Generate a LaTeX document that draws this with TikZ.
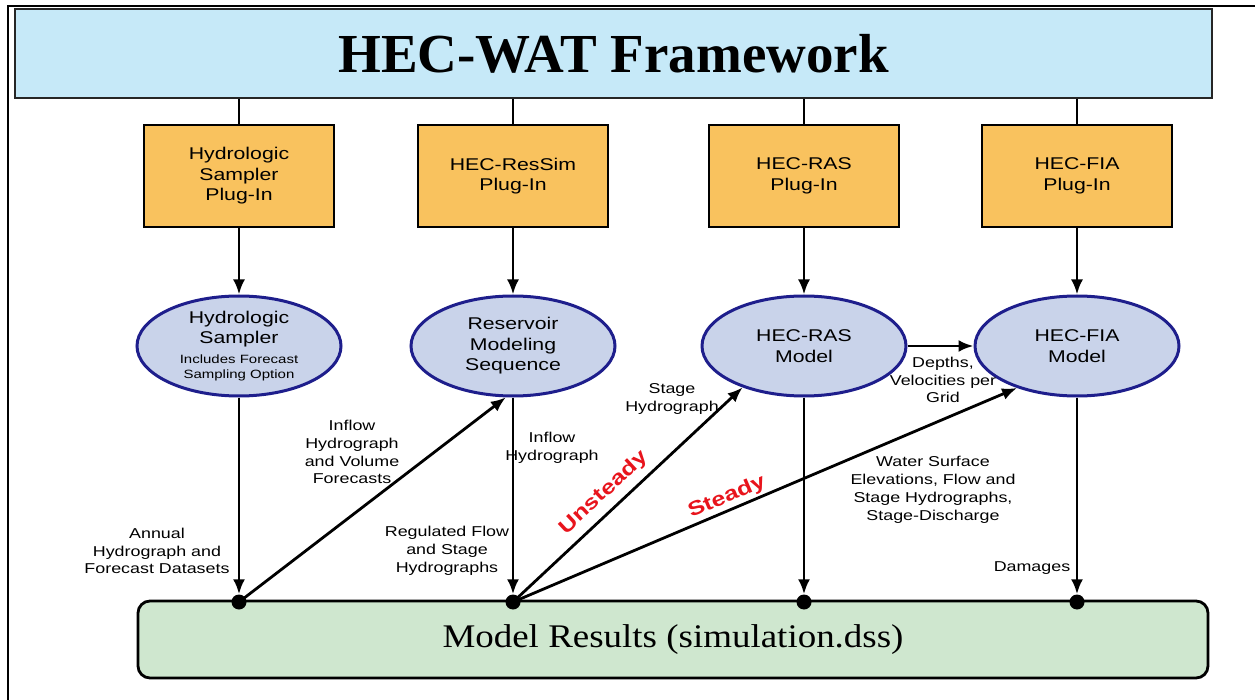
\documentclass[tikz,border=0pt]{standalone}
\usepackage{fontspec}
\setmainfont{Liberation Serif}
\setsansfont{Liberation Sans}[FakeStretch=1.25]
\newfontfamily\resfont{Liberation Serif}[FakeStretch=1.12]
\usepackage{tikz}
\usetikzlibrary{arrows.meta,positioning,shapes.geometric}
\definecolor{watblue}{HTML}{C6E9F8}
\definecolor{watorange}{HTML}{F9C25E}
\definecolor{watlav}{HTML}{C9D3EA}
\definecolor{watnavy}{HTML}{1E1E8C}
\definecolor{watgreen}{HTML}{CFE7CF}
\definecolor{watred}{HTML}{E8141C}

\begin{document}
\begin{tikzpicture}[x=1pt,y=-1pt,
  plugin/.style={draw=black,line width=1.8pt,fill=watorange,minimum width=190pt,minimum height=102pt,align=center,font=\sffamily\fontsize{17}{20.5}\selectfont},
  model/.style={ellipse,draw=watnavy,line width=3pt,fill=watlav,minimum width=204pt,minimum height=100pt,inner sep=0pt,align=center,font=\sffamily\fontsize{17}{20.5}\selectfont},
  lbl/.style={align=center,inner sep=0pt,font=\sffamily\fontsize{14.3}{17.8}\selectfont},
  flowtype/.style={text=watred,inner sep=0pt,font=\sffamily\bfseries\fontsize{20}{23}\selectfont},
  tap/.style={circle,fill=black,inner sep=0pt,minimum size=15pt},
  conn/.style={line width=2.8pt,-{Latex[length=15pt,width=12pt]}},
  tie/.style={line width=2.2pt}]
\useasboundingbox (0,0) rectangle (1255,700);
\draw[line width=2.2pt] (8,700) -- (8,6) -- (1255,6);

% framework banner
\node[draw=black!85,line width=1.6pt,fill=watblue,minimum width=1197pt,minimum height=89pt,inner sep=0pt,font=\bfseries\fontsize{55}{60}\selectfont] (wat) at (613.5,53.5) {HEC-WAT Framework};

% plug-ins
\node[plugin] (hsp) at (239,176) {Hydrologic\\Sampler\\Plug-In};
\node[plugin] (rsp) at (513,176) {HEC-ResSim\\Plug-In};
\node[plugin] (rasp) at (804,176) {HEC-RAS\\Plug-In};
\node[plugin] (fiap) at (1077,176) {HEC-FIA\\Plug-In};
\draw[tie] (wat.south -| hsp) -- (hsp.north);
\draw[tie] (wat.south -| rsp) -- (rsp.north);
\draw[tie] (wat.south -| rasp) -- (rasp.north);
\draw[tie] (wat.south -| fiap) -- (fiap.north);

% models
\node[model] (hs) at (239,346) {Hydrologic\\Sampler\\[-1pt]\fontsize{12}{15.5}\selectfont Includes Forecast\\[-5.5pt]\fontsize{12}{15.5}\selectfont Sampling Option};
\node[model] (rms) at (513,346) {Reservoir\\Modeling\\Sequence};
\node[model] (ras) at (804,346) {HEC-RAS\\Model};
\node[model] (fia) at (1077,346) {HEC-FIA\\Model};
\draw[conn] (hsp) -- (hs);
\draw[conn] (rsp) -- (rms);
\draw[conn] (rasp) -- (ras);
\draw[conn] (fiap) -- (fia);

% results
\node[draw=black,line width=2.8pt,fill=watgreen,rounded corners=12pt,minimum width=1070pt,minimum height=77pt,font=\resfont\fontsize{33}{38}\selectfont] (res) at (673,639.5) {Model Results (simulation.dss)};
\node[tap] (d1) at (239,602) {};
\node[tap] (d2) at (513,602) {};
\node[tap] (d3) at (804,602) {};
\node[tap] (d4) at (1077,602) {};
\draw[conn] (hs) -- (d1);
\draw[conn] (rms) -- (d2);
\draw[conn] (ras) -- (d3);
\draw[conn] (fia) -- (d4);
\draw[conn] (d1.center) -- (rms.262);
\draw[conn] (d2.center) -- (ras.214);
\draw[conn] (d2.center) -- (fia.215);
\draw[conn] (ras.east) -- (fia.west);

% labels
\node[lbl] (annual) at (157,551) {Annual\\Hydrograph and\\Forecast Datasets};
\node[lbl] (inflowvol) at (352,452) {Inflow\\Hydrograph\\and Volume\\Forecasts};
\node[lbl] (regflow) at (447,551) {Regulated Flow\\and Stage\\Hydrographs};
\node[lbl] (inflow) at (552,448) {Inflow\\Hydrograph};
\node[lbl] (stage) at (672,399) {Stage\\Hydrograph};
\node[lbl] (depths) at (943,380) {Depths,\\Velocities per\\Grid};
\node[lbl] (wse) at (933,490) {Water Surface\\Elevations, Flow and\\Stage Hydrographs,\\Stage-Discharge};
\node[lbl] (damages) at (1032,568) {Damages};
\node[flowtype,rotate=43] (unsteady) at (604,493) {Unsteady};
\node[flowtype,rotate=23] (steady) at (727,497) {Steady};
\end{tikzpicture}
\end{document}
